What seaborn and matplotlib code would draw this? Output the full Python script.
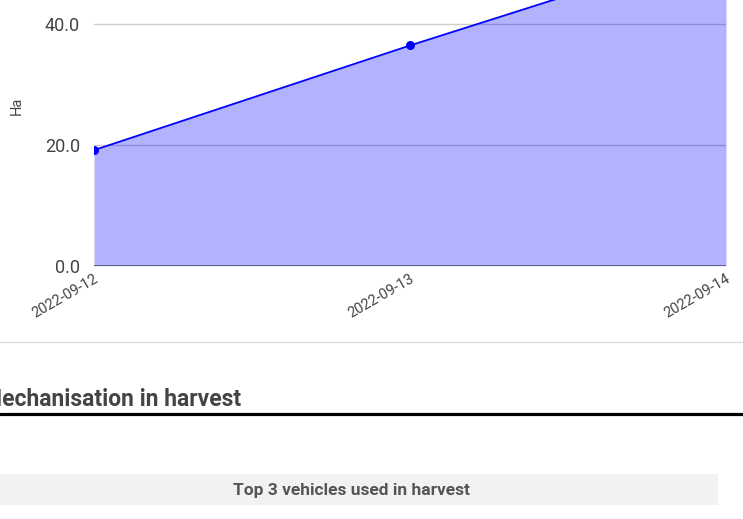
import pandas as pd
import seaborn as sns
import matplotlib.pyplot as plt
from matplotlib.lines import Line2D
from matplotlib.patches import Rectangle

# harvested area per day (Ha)
dates = ['2022-09-12', '2022-09-13', '2022-09-14']
hectares = [19.1, 36.4, 53.0]
y_ticks = [0, 20, 40]
y_max = 60

section_title = 'Mechanisation in harvest'
sub_title = 'Top 3 vehicles used in harvest'

W, H = 743, 519

sns.set_theme(style='white')
plt.rcParams['font.family'] = ['Roboto', 'DejaVu Sans']

df = pd.DataFrame({'date': pd.to_datetime(dates), 'ha': hectares})

fig = plt.figure(figsize=(W / 100, H / 100), dpi=100)

def fx(px):
    return px / W

def fy(py):
    return 1 - py / H

# the page is cropped: the top of the plot area sits above the picture
ax = fig.add_axes([fx(94), fy(265.7), fx(726) - fx(94), (265.7 + 97.3) / H])

for v in y_ticks[1:] + [y_max]:
    ax.axhline(v, color='#cccccc', lw=1, zorder=0)
ax.fill_between(df['date'], df['ha'], color='blue', alpha=0.3, lw=0, zorder=1)
sns.lineplot(data=df, x='date', y='ha', ax=ax, color='blue', lw=1.3,
             marker='o', markersize=6.5, markeredgewidth=0, zorder=3)
ax.axhline(0, color='#555577', lw=1.3, zorder=2)

ax.set_xlim(df['date'].iloc[0], df['date'].iloc[-1])
ax.set_ylim(0, y_max)
ax.set_yticks(y_ticks)
ax.set_yticklabels([f'{v:.1f}' for v in y_ticks])
ax.set_xticks(df['date'])
ax.set_xticklabels(dates)
ax.set_xlabel('')
ax.set_ylabel('')
for s in ax.spines.values():
    s.set_visible(False)
ax.tick_params(axis='y', length=0, pad=10, labelsize=13, labelcolor='#444444')
ax.tick_params(axis='x', length=0, pad=4, labelsize=10.5, labelcolor='#444444')
for lab in ax.get_xticklabels():
    lab.set_rotation(30)
    lab.set_ha('right')
    lab.set_va('top')
    lab.set_rotation_mode('anchor')

fig.text(fx(17), fy(106), 'Ha', rotation=90, ha='center', va='center',
         fontsize=10.5, color='#444444')

# page elements below the chart
fig.add_artist(Line2D([0, 1], [fy(342), fy(342)], color='#dddddd', lw=1))
fig.text(fx(-18), fy(406), section_title, ha='left', va='baseline',
         fontsize=16.5, fontweight='bold', color='#444444')
fig.add_artist(Line2D([0, 1], [fy(413.5), fy(413.5)], color='black', lw=2.3))
fig.add_artist(Rectangle((0, fy(505)), fx(718), (505 - 474) / H,
                         transform=fig.transFigure, color='#f2f2f2', lw=0))
fig.text(fx(351), fy(490), sub_title, ha='center', va='center',
         fontsize=12.5, fontweight='bold', color='#555555')

fig.savefig('out.png', dpi=100)
